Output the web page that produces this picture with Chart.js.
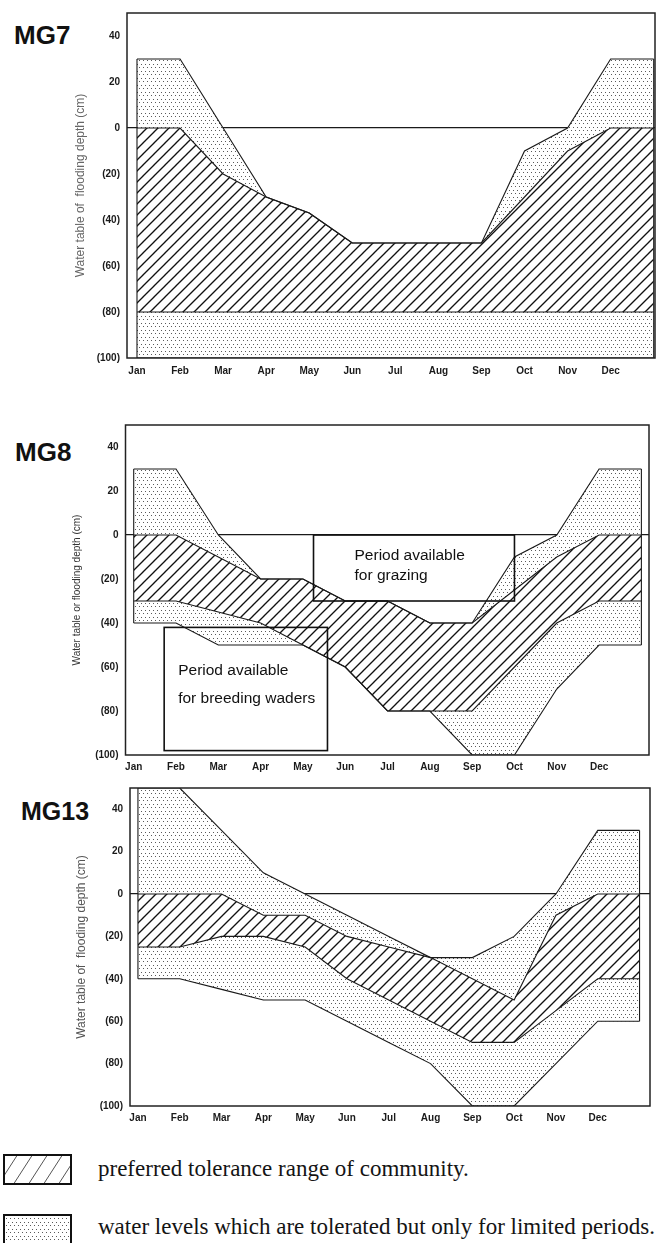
<!DOCTYPE html>
<html>
<head>
<meta charset="utf-8">
<script src="https://cdn.jsdelivr.net/npm/chart.js@4.4.1/dist/chart.umd.min.js"></script>
<style>
  html, body { margin: 0; padding: 0; background: #fff; }
  body { position: relative; width: 656px; height: 1243px; overflow: hidden; font-family: Arial, "Liberation Sans", sans-serif; }
  canvas.panel { position: absolute; left: 0; }
  .tag { position: absolute; font-weight: bold; font-size: 26px; line-height: 26px; color: #111; }
  .key { position: absolute; left: 98px; font-family: "Liberation Serif", "Times New Roman", serif; font-size: 23px; line-height: 23px; color: #141414; white-space: nowrap; }
  .swatch { position: absolute; left: 3px; }
</style>
</head>
<body>
<div class="tag" style="left:14px;top:22px">MG7</div>
<div class="tag" style="left:15px;top:439px">MG8</div>
<div class="tag" style="left:21px;top:798px;font-size:25px">MG13</div>

<canvas id="chart-mg7" class="panel" width="656" height="385" style="top:0px"></canvas>
<canvas id="chart-mg8" class="panel" width="656" height="390" style="top:385px"></canvas>
<canvas id="chart-mg13" class="panel" width="656" height="360" style="top:775px"></canvas>

<canvas id="key-preferred" class="swatch" width="69" height="31" style="top:1154px"></canvas>
<div class="key" style="top:1157px">preferred tolerance range of community.</div>
<canvas id="key-tolerated" class="swatch" width="69" height="31" style="top:1214px"></canvas>
<div class="key" style="top:1215px">water levels which are tolerated but only for limited periods.</div>

<script>
const MONTHS = ["Jan", "Feb", "Mar", "Apr", "May", "Jun", "Jul", "Aug", "Sep", "Oct", "Nov", "Dec"];
const Y_TICKS = [40, 20, 0, -20, -40, -60, -80, -100];

// one value per month start, the 13th is the end of December (cm, negative = below surface)
const MG7_TOLERATED_TOP = [30, 30, 0, -30, -37, -50, -50, -50, -50, -10, 0, 30, 30];
const MG7_PREFERRED_TOP = [0, 0, -20, -30, -37, -50, -50, -50, -50, -30, -10, 0, 0];
const MG7_PREFERRED_BOTTOM = [-80, -80, -80, -80, -80, -80, -80, -80, -80, -80, -80, -80, -80];
const MG7_TOLERATED_BOTTOM = [-100, -100, -100, -100, -100, -100, -100, -100, -100, -100, -100, -100, -100];

const MG8_TOLERATED_TOP = [30, 30, 0, -20, -20, -30, -30, -40, -40, -10, 0, 30, 30];
const MG8_PREFERRED_TOP = [0, 0, -10, -20, -20, -30, -30, -40, -40, -25, -10, 0, 0];
const MG8_PREFERRED_BOTTOM = [-30, -30, -35, -40, -50, -60, -80, -80, -80, -60, -40, -30, -30];
const MG8_TOLERATED_BOTTOM = [-40, -40, -50, -50, -50, -60, -80, -80, -100, -100, -70, -50, -50];

const MG13_TOLERATED_TOP = [50, 50, 30, 10, 0, -10, -20, -30, -30, -20, 0, 30, 30];
const MG13_PREFERRED_TOP = [0, 0, 0, -10, -10, -20, -25, -30, -40, -50, -10, 0, 0];
const MG13_PREFERRED_BOTTOM = [-25, -25, -20, -20, -25, -40, -50, -60, -70, -70, -55, -40, -40];
const MG13_TOLERATED_BOTTOM = [-40, -40, -45, -50, -50, -60, -70, -80, -100, -100, -80, -60, -60];

// MG8 management periods (month position, depth)
const GRAZING_MONTHS = [4.25, 9.0];
const GRAZING_DEPTH = [0, -30];
const BREEDING_MONTHS = [0.72, 4.58];
const BREEDING_DEPTH = [-42, -98];

Chart.defaults.font.family = 'Arial, "Liberation Sans", sans-serif';

function hatchPattern(spacing, width) {
  const c = document.createElement("canvas");
  c.width = spacing;
  c.height = spacing;
  const g = c.getContext("2d");
  g.fillStyle = "#fff";
  g.fillRect(0, 0, spacing, spacing);
  g.strokeStyle = "#111";
  g.lineWidth = width;
  g.beginPath();
  for (const o of [-spacing, 0, spacing]) {
    g.moveTo(o - 1, spacing + 1);
    g.lineTo(o + spacing + 1, -1);
  }
  g.stroke();
  return g.createPattern(c, "repeat");
}

function dotPattern() {
  const c = document.createElement("canvas");
  c.width = 4;
  c.height = 7;
  const g = c.getContext("2d");
  g.fillStyle = "#fff";
  g.fillRect(0, 0, 4, 7);
  g.fillStyle = "#5a5a5a";
  g.fillRect(1, 1, 1, 1);
  g.fillRect(3, 4, 1, 1);
  return g.createPattern(c, "repeat");
}

const HATCH = hatchPattern(11, 1.35);
const DOTS = dotPattern();

function pts(arr) {
  return arr.map((y, i) => ({ x: i, y }));
}

const LINE = { borderColor: "#1a1a1a", borderWidth: 1.1, pointRadius: 0, tension: 0 };

function panelDatasets(tolTop, prefTop, prefBottom, tolBottom) {
  const last = tolTop.length - 1;
  return [
    // end edges first so they are drawn on top
    { ...LINE, data: [{ x: 0, y: tolTop[0] }, { x: 0, y: tolBottom[0] }], fill: false },
    { ...LINE, data: [{ x: last, y: tolTop[last] }, { x: last, y: tolBottom[last] }], fill: false },
    { ...LINE, data: pts(prefTop), fill: "+1", backgroundColor: HATCH },
    { ...LINE, data: pts(prefBottom), fill: false },
    { ...LINE, data: pts(tolTop), fill: "+1", backgroundColor: DOTS },
    { ...LINE, data: pts(tolBottom), fill: false },
  ];
}

const framePlugin = {
  id: "frame",
  afterDatasetsDraw(chart) {
    const { ctx, chartArea: a } = chart;
    ctx.save();
    ctx.strokeStyle = "#222";
    ctx.lineWidth = 1.5;
    ctx.strokeRect(a.left, a.top, a.right - a.left, a.bottom - a.top);
    ctx.restore();
  },
};

function periodBoxes(boxes) {
  return {
    id: "periodBoxes",
    afterDatasetsDraw(chart) {
      const { ctx, scales: { x, y } } = chart;
      for (const b of boxes) {
        const l = x.getPixelForValue(b.months[0]);
        const r = x.getPixelForValue(b.months[1]);
        const t = y.getPixelForValue(b.depth[0]);
        const btm = y.getPixelForValue(b.depth[1]);
        ctx.save();
        ctx.strokeStyle = "#111";
        ctx.lineWidth = 1.6;
        ctx.strokeRect(l, t, r - l, btm - t);
        ctx.font = '15.5px Arial, "Liberation Sans", sans-serif';
        ctx.fillStyle = "#111";
        ctx.textBaseline = "middle";
        b.lines.forEach((s, i) => ctx.fillText(s, l + b.inset, t + b.first + i * b.gap));
        ctx.restore();
      }
    },
  };
}

/**
 * Build one panel. top/bottom/left/right = pixel box of the plot frame inside the canvas.
 */
function makePanel(id, p) {
  const canvas = document.getElementById(id);
  const H = canvas.height;
  return new Chart(canvas, {
    type: "line",
    data: { datasets: panelDatasets(p.tolTop, p.prefTop, p.prefBottom, p.tolBottom) },
    plugins: [framePlugin].concat(p.plugins || []),
    options: {
      responsive: false,
      animation: false,
      layout: { padding: { top: p.top, left: p.padLeft, right: 656 - p.right, bottom: 0 } },
      plugins: {
        legend: { display: false },
        tooltip: { enabled: false },
        filler: { drawTime: "beforeDatasetsDraw" },
      },
      scales: {
        x: {
          type: "linear",
          min: p.xMin,
          max: p.xMax,
          afterBuildTicks: (s) => { s.ticks = MONTHS.map((m, i) => ({ value: i })); },
          afterFit: (s) => { s.height = H - p.bottom; },
          grid: { display: false, drawTicks: false },
          border: { display: false },
          ticks: {
            autoSkip: false,
            maxRotation: 0,
            padding: p.xPad,
            color: "#1a1a1a",
            font: { size: 10, weight: "bold" },
            callback: (v) => MONTHS[v] || "",
          },
        },
        y: {
          type: "linear",
          min: -100,
          max: 50,
          afterBuildTicks: (s) => { s.ticks = Y_TICKS.map((v) => ({ value: v })); },
          afterFit: (s) => { s.width = p.left - p.padLeft; },
          grid: {
            drawTicks: false,
            lineWidth: 1.2,
            color: (c) => (c.tick && c.tick.value === 0 ? "#1a1a1a" : "rgba(0,0,0,0)"),
          },
          border: { display: false },
          ticks: {
            padding: 7,
            color: "#1a1a1a",
            font: { size: 10, weight: "bold" },
            callback: (v) => (v < 0 ? "(" + -v + ")" : String(v)),
          },
          title: {
            display: true,
            text: p.yTitle,
            color: p.yTitleColor,
            font: { size: p.yTitleSize },
            padding: { top: 4, bottom: 0 },
          },
        },
      },
    },
  });
}

makePanel("chart-mg7", {
  tolTop: MG7_TOLERATED_TOP, prefTop: MG7_PREFERRED_TOP,
  prefBottom: MG7_PREFERRED_BOTTOM, tolBottom: MG7_TOLERATED_BOTTOM,
  top: 6, bottom: 358, left: 127, right: 655, padLeft: 69,
  xMin: -0.232, xMax: 12.03, xPad: 7,
  yTitle: "Water table of  flooding depth (cm)", yTitleColor: "#666", yTitleSize: 12,
});

makePanel("chart-mg8", {
  tolTop: MG8_TOLERATED_TOP, prefTop: MG8_PREFERRED_TOP,
  prefBottom: MG8_PREFERRED_BOTTOM, tolBottom: MG8_TOLERATED_BOTTOM,
  top: 40, bottom: 370, left: 125.5, right: 649, padLeft: 67.5,
  xMin: -0.194, xMax: 12.18, xPad: 6,
  yTitle: "Water table or flooding depth (cm)", yTitleColor: "#333", yTitleSize: 10,
  plugins: [periodBoxes([
    { months: GRAZING_MONTHS, depth: GRAZING_DEPTH, lines: ["Period available", "for grazing"], inset: 41, first: 21, gap: 20 },
    { months: BREEDING_MONTHS, depth: BREEDING_DEPTH, lines: ["Period available", "for breeding waders"], inset: 14, first: 43, gap: 28 },
  ])],
});

makePanel("chart-mg13", {
  tolTop: MG13_TOLERATED_TOP, prefTop: MG13_PREFERRED_TOP,
  prefBottom: MG13_PREFERRED_BOTTOM, tolBottom: MG13_TOLERATED_BOTTOM,
  top: 11, bottom: 331, left: 130, right: 650, padLeft: 70.3,
  xMin: -0.19, xMax: 12.25, xPad: 6,
  yTitle: "Water table of  flooding depth (cm)", yTitleColor: "#555", yTitleSize: 12,
});

// legend swatches
(function drawKeys() {
  const a = document.getElementById("key-preferred").getContext("2d");
  a.fillStyle = "#fff";
  a.fillRect(0, 0, 69, 31);
  a.strokeStyle = "#555";
  a.lineWidth = 1;
  a.beginPath();
  for (let x0 = -20; x0 < 90; x0 += 15) {
    a.moveTo(x0, 31);
    a.lineTo(x0 + 20, 0);
  }
  a.stroke();
  a.strokeStyle = "#111";
  a.lineWidth = 2;
  a.strokeRect(1, 1, 67, 29);

  const b = document.getElementById("key-tolerated").getContext("2d");
  b.fillStyle = DOTS;
  b.fillRect(0, 0, 69, 31);
  b.strokeStyle = "#111";
  b.lineWidth = 2;
  b.strokeRect(1, 1, 67, 29);
})();
</script>
</body>
</html>
